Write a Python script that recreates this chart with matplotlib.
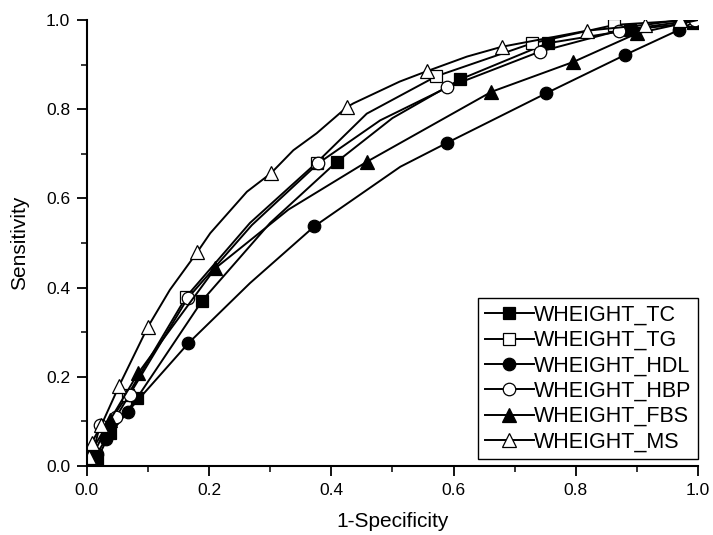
import matplotlib

matplotlib.use("Agg")
import matplotlib.pyplot as plt
from matplotlib.ticker import MultipleLocator

plt.rcParams["font.family"] = ["Liberation Sans", "DejaVu Sans"]

# curve points (1-specificity, sensitivity); markers are subsets
tc_x = [0.0, 0.005, 0.016, 0.038, 0.082, 0.189, 0.30, 0.409, 0.50, 0.611, 0.754, 0.889, 0.992, 1.0]
tc_y = [0.0, 0.0, 0.013, 0.073, 0.152, 0.371, 0.545, 0.682, 0.78, 0.867, 0.948, 0.978, 0.994, 1.0]
tc_mark = [1, 2, 3, 4, 5, 7, 9, 10, 11, 12]

tg_x = [0.0, 0.002, 0.03, 0.067, 0.163, 0.267, 0.376, 0.458, 0.572, 0.729, 0.863, 0.99, 1.0]
tg_y = [0.0, 0.02, 0.085, 0.159, 0.38, 0.545, 0.68, 0.79, 0.874, 0.948, 0.989, 1.0, 1.0]
tg_mark = [1, 3, 4, 6, 8, 9, 10, 11]

hdl_x = [0.0, 0.005, 0.016, 0.031, 0.067, 0.166, 0.267, 0.372, 0.513, 0.590, 0.752, 0.881, 0.969, 1.0]
hdl_y = [0.0, 0.0, 0.026, 0.06, 0.122, 0.275, 0.41, 0.537, 0.671, 0.725, 0.836, 0.922, 0.978, 1.0]
hdl_mark = [1, 2, 3, 4, 5, 7, 9, 10, 11, 12]

hbp_x = [0.0, 0.004, 0.022, 0.048, 0.07, 0.165, 0.27, 0.379, 0.48, 0.590, 0.741, 0.870, 0.995, 1.0]
hbp_y = [0.0, 0.0, 0.092, 0.11, 0.16, 0.376, 0.54, 0.679, 0.775, 0.849, 0.929, 0.976, 1.0, 1.0]
hbp_mark = [1, 2, 3, 4, 5, 7, 9, 10, 11, 12]

fbs_x = [0.0, 0.005, 0.013, 0.038, 0.084, 0.21, 0.33, 0.458, 0.662, 0.796, 0.90, 1.0]
fbs_y = [0.0, 0.0, 0.032, 0.103, 0.208, 0.443, 0.575, 0.682, 0.839, 0.906, 0.97, 1.0]
fbs_mark = [1, 2, 3, 4, 5, 7, 8, 9, 10]

ms_x = [0.0, 0.003, 0.008, 0.024, 0.053, 0.10, 0.136, 0.181, 0.202, 0.262, 0.301, 0.338,
        0.376, 0.425, 0.436, 0.512, 0.556, 0.622, 0.679, 0.818, 0.913, 0.97, 1.0]
ms_y = [0.0, 0.021, 0.052, 0.092, 0.18, 0.312, 0.395, 0.48, 0.522, 0.615, 0.656, 0.708,
        0.746, 0.804, 0.813, 0.862, 0.885, 0.918, 0.94, 0.976, 0.989, 1.0, 1.0]
ms_mark = [1, 2, 3, 4, 5, 7, 10, 13, 16, 18, 19, 20, 21]

series = [
    ("WHEIGHT_TC", tc_x, tc_y, tc_mark, "s", "black"),
    ("WHEIGHT_TG", tg_x, tg_y, tg_mark, "s", "white"),
    ("WHEIGHT_HDL", hdl_x, hdl_y, hdl_mark, "o", "black"),
    ("WHEIGHT_HBP", hbp_x, hbp_y, hbp_mark, "o", "white"),
    ("WHEIGHT_FBS", fbs_x, fbs_y, fbs_mark, "^", "black"),
    ("WHEIGHT_MS", ms_x, ms_y, ms_mark, "^", "white"),
]

fig = plt.figure(figsize=(7.13, 5.35), dpi=100)
ax = fig.add_axes([0.1217, 0.129, 0.8573, 0.8336])

for name, xs, ys, marks, marker, face in series:
    size = 10 if marker == "^" else 9
    ax.plot(xs, ys, color="black", linewidth=1.4, marker=marker, markevery=marks,
            markersize=size, markerfacecolor=face, markeredgecolor="black",
            markeredgewidth=0.9, label=name)

ax.set_xlim(0, 1.0)
ax.set_ylim(0, 1.0)
ax.xaxis.set_major_locator(MultipleLocator(0.2))
ax.yaxis.set_major_locator(MultipleLocator(0.2))
ax.xaxis.set_minor_locator(MultipleLocator(0.1))
ax.yaxis.set_minor_locator(MultipleLocator(0.1))
ax.xaxis.set_major_formatter(lambda v, p: f"{v:.1f}")
ax.yaxis.set_major_formatter(lambda v, p: f"{v:.1f}")
ax.spines["top"].set_visible(False)
ax.spines["right"].set_visible(False)
for side in ("left", "bottom"):
    ax.spines[side].set_linewidth(1.5)
ax.tick_params(which="major", direction="out", length=7, width=1.3, labelsize=12.5, pad=5)
ax.tick_params(which="minor", direction="out", length=4, width=1.1)

ax.set_xlabel("1-Specificity", fontsize=15, labelpad=10)
ax.set_ylabel("Sensitivity", fontsize=15, labelpad=12)

leg = ax.legend(loc="lower right", bbox_to_anchor=(1.0, 0.016), borderaxespad=0,
                fontsize=15.5, frameon=True, fancybox=False, edgecolor="black",
                framealpha=1, handlelength=2.3, handletextpad=0.0,
                labelspacing=0.2, borderpad=0.3)
leg.get_frame().set_linewidth(1.0)

fig.savefig("out.png", dpi=100, facecolor="white")
